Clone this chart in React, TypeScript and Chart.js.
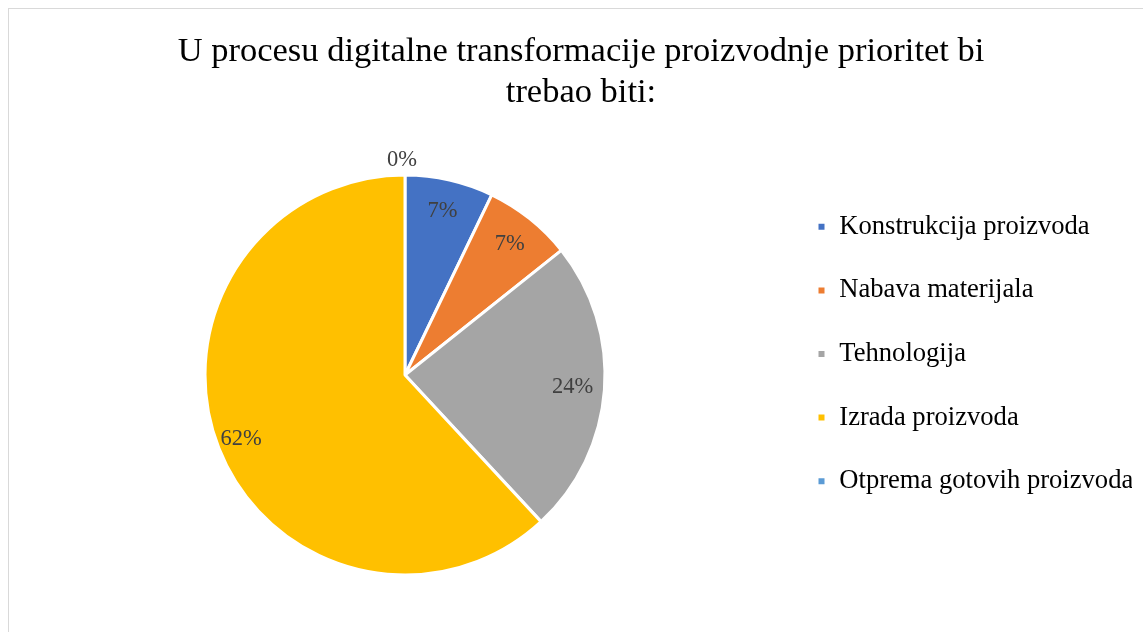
import React, { useEffect, useRef } from "react";
import { Chart, registerables } from "chart.js";

Chart.register(...registerables);

const categories = [
  "Konstrukcija proizvoda",
  "Nabava materijala",
  "Tehnologija",
  "Izrada proizvoda",
  "Otprema gotovih proizvoda",
];
const values = [3, 3, 10, 26, 0];
const colors = ["#4472C4", "#ED7D31", "#A5A5A5", "#FFC000", "#5B9BD5"];
const titleLines = [
  "U procesu digitalne transformacije proizvodnje prioritet bi",
  "trebao biti:",
];

const FONT = "'Liberation Serif', 'Times New Roman', serif";

const labelPlugin = {
  id: "pctLabels",
  afterDatasetsDraw(chart: any) {
    const { ctx } = chart;
    const meta = chart.getDatasetMeta(0);
    const data = chart.data.datasets[0].data as number[];
    const total = data.reduce((a: number, b: number) => a + b, 0);
    ctx.save();
    ctx.font = `22.5px ${FONT}`;
    ctx.fillStyle = "#404040";
    ctx.textAlign = "center";
    ctx.textBaseline = "middle";
    meta.data.forEach((arc: any, i: number) => {
      const { x, y, startAngle, endAngle, outerRadius } = arc.getProps(
        ["x", "y", "startAngle", "endAngle", "outerRadius"],
        true
      );
      const mid = (startAngle + endAngle) / 2;
      const v = data[i];
      const share = v / total;
      const r = v === 0 ? outerRadius + 15 : outerRadius * (share > 0.5 ? 0.88 : 0.84);
      ctx.fillText(
        `${Math.round(share * 100)}%`,
        x + Math.cos(mid) * r - (v === 0 ? 3 : 0),
        y + Math.sin(mid) * r
      );
    });
    ctx.restore();
  },
};

export default function App() {
  const ref = useRef<HTMLCanvasElement>(null);
  useEffect(() => {
    const chart = new Chart(ref.current!, {
      type: "pie",
      data: {
        labels: categories,
        datasets: [
          {
            data: values,
            backgroundColor: colors,
            borderColor: "#ffffff",
            borderWidth: 3,
            hoverOffset: 0,
          },
        ],
      },
      options: {
        responsive: true,
        maintainAspectRatio: false,
        animation: false,
        events: [],
        layout: { padding: { left: 21, right: 11, top: 0, bottom: 55.5 } },
        plugins: {
          title: {
            display: true,
            text: titleLines,
            color: "#000000",
            font: { family: FONT, size: 34.5, weight: "normal", lineHeight: 1.19 },
            padding: { top: 22, bottom: 60.4 },
          },
          legend: {
            position: "right",
            align: "start",
            fullSize: false,
            maxWidth: 352,
            title: {
              display: true,
              text: " ",
              font: { family: FONT, size: 1, lineHeight: 1 },
              padding: { top: 1, bottom: 1 },
            },
            labels: {
              boxWidth: 9,
              boxHeight: 9,
              padding: 37,
              color: "#000000",
              font: { family: FONT, size: 26.6 },
            },
          },
          tooltip: { enabled: false },
        },
      },
      plugins: [labelPlugin],
    });
    return () => chart.destroy();
  }, []);
  return (
    <div
      style={{
        position: "fixed",
        left: 8,
        top: 8,
        width: 1134,
        height: 623,
        borderTop: "1px solid #d9d9d9",
        borderLeft: "1px solid #d9d9d9",
        background: "#fff",
      }}
    >
      <div style={{ position: "relative", width: 1134, height: 623 }}>
        <canvas ref={ref} />
      </div>
    </div>
  );
}
